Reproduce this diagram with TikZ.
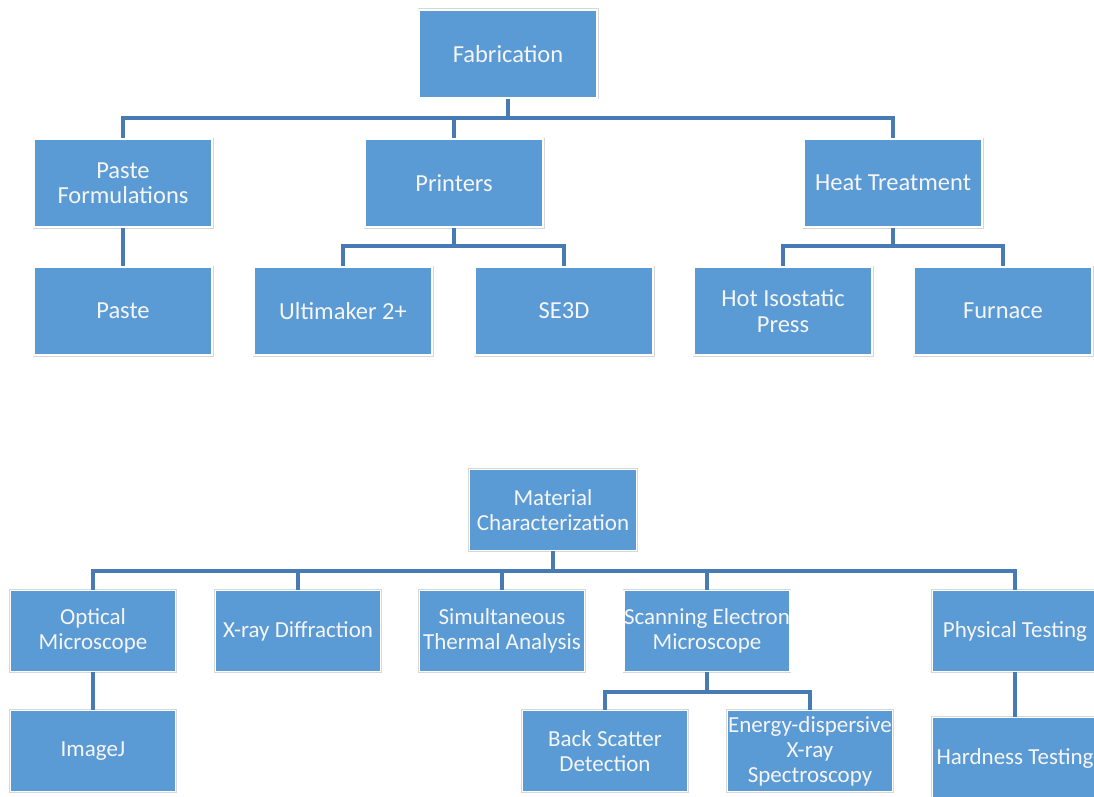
\documentclass[tikz,border=0pt]{standalone}
\usepackage{fontspec}
\setmainfont{Carlito}
\definecolor{boxblue}{RGB}{91,155,213}
\definecolor{linkblue}{RGB}{72,122,180}
\definecolor{edgegrey}{RGB}{215,215,215}
\definecolor{txt}{RGB}{245,245,245}
\begin{document}
\begin{tikzpicture}[x=1pt,y=-1pt,
  box/.style={fill=boxblue, draw=white, line width=1.6pt,
    preaction={draw=edgegrey, line width=3pt},
    inner sep=0pt, align=center, text=txt, font=\fontsize{24.5}{25.5}\selectfont},
  topbox/.style={box, minimum width=178pt, minimum height=88pt},
  lowbox/.style={box, minimum width=165pt, minimum height=81pt, font=\fontsize{23}{25}\selectfont},
  conn/.style={draw=linkblue, line width=3.2pt}]
\clip (0,0) rectangle (1094,797);
\fill[white] (0,0) rectangle (1094,797);
% ---- Fabrication tree
\node[topbox] (fab) at (508,54) {Fabrication};
\node[topbox] (pf) at (123,183) {Paste\\Formulations};
\node[topbox] (pr) at (454,183) {Printers};
\node[topbox] (ht) at (893,183) {Heat Treatment};
\node[topbox] (pa) at (123,311) {Paste};
\node[topbox] (um) at (343,311) {Ultimaker 2+};
\node[topbox] (se) at (564,311) {SE3D};
\node[topbox] (hip) at (783,311) {Hot Isostatic\\Press};
\node[topbox] (fu) at (1003,311) {Furnace};
\coordinate (b1) at (0,118);
\coordinate (b2) at (0,246);
\draw[conn] (fab.south) -- (fab.south |- b1) -| (pf.north);
\draw[conn] (fab.south |- b1) -| (pr.north);
\draw[conn] (fab.south |- b1) -| (ht.north);
\draw[conn] (pf.south) -- (pa.north);
\draw[conn] (pr.south) -- (pr.south |- b2) -| (um.north);
\draw[conn] (pr.south |- b2) -| (se.north);
\draw[conn] (ht.south) -- (ht.south |- b2) -| (hip.north);
\draw[conn] (ht.south |- b2) -| (fu.north);
% ---- Material Characterization tree
\node[lowbox, minimum width=167pt] (mc) at (553,510) {Material\\Characterization};
\node[lowbox] (om) at (93,631) {Optical\\Microscope};
\node[lowbox] (xrd) at (298,631) {X-ray Diffraction};
\node[lowbox] (sta) at (502,631) {Simultaneous\\Thermal Analysis};
\node[lowbox] (sem) at (707,631) {Scanning Electron\\Microscope};
\node[lowbox] (pt) at (1015,631) {Physical Testing};
\node[lowbox] (ij) at (93,751) {ImageJ};
\node[lowbox] (bsd) at (605,751) {Back Scatter\\Detection};
\node[lowbox] (eds) at (810,751) {Energy-dispersive\\X-ray\\Spectroscopy};
\node[lowbox] (hard) at (1015,758) {Hardness Testing};
\coordinate (b3) at (0,571);
\coordinate (b4) at (0,692);
\draw[conn] (mc.south) -- (mc.south |- b3) -| (om.north);
\draw[conn] (mc.south |- b3) -| (xrd.north);
\draw[conn] (mc.south |- b3) -| (sta.north);
\draw[conn] (mc.south |- b3) -| (sem.north);
\draw[conn] (mc.south |- b3) -| (pt.north);
\draw[conn] (om.south) -- (ij.north);
\draw[conn] (sem.south) -- (sem.south |- b4) -| (bsd.north);
\draw[conn] (sem.south |- b4) -| (eds.north);
\draw[conn] (pt.south) -- (hard.north);
\end{tikzpicture}
\end{document}
